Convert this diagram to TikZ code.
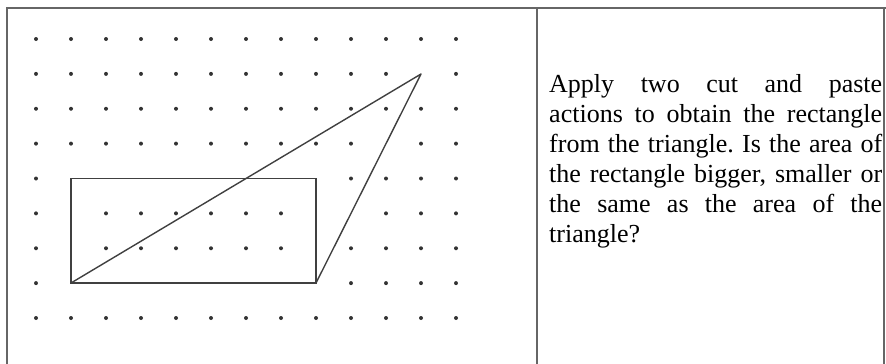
\documentclass[tikz,border=0pt]{standalone}
\usepackage{fontspec}
\setmainfont{Liberation Serif}
\begin{document}
\begin{tikzpicture}[x=1pt,y=-1pt,
  frame/.style={draw=black!60,line width=1.5pt},
  rectline/.style={draw=black!75,line width=1.9pt},
  triline/.style={draw=black!75,line width=1.4pt,line join=round},
  griddot/.style={fill=black!80},
  question/.style={anchor=north west,inner sep=0pt,text width=333pt,align=justify,
    font=\fontsize{26}{30}\selectfont}]
\useasboundingbox (0,0) rectangle (886,364);
% table frame
\coordinate (tl) at (7,8);
\coordinate (tr) at (886,8);
\coordinate (bl) at (7,364);
\coordinate (dt) at (537,8);
\coordinate (db) at (537,364);
\coordinate (rt) at (884,8);
\coordinate (rb) at (884,364);
\draw[frame] (bl) -- (tl) -- (tr);
\draw[frame] (dt) -- (db);
\draw[frame] (rt) -- (rb);
% dot grid
\foreach \i in {0,...,12}{
  \foreach \j in {0,...,8}{
    \pgfmathtruncatemacro\hideit{((\j==4 || \j==7) && \i>=1 && \i<=8) || ((\j==5 || \j==6) && (\i==1 || \i==8)) || (\i==11 && \j==1) || (\i==10 && \j==3) || (\i==9 && \j==5)}
    \ifnum\hideit=0
      \fill[griddot] ({36+35*\i},{39+34.875*\j}) circle (2pt);
    \fi
  }
}
% shapes
\coordinate (A) at (71,283);
\coordinate (B) at (316,283);
\coordinate (C) at (316,178.5);
\coordinate (D) at (71,178.5);
\coordinate (P) at (421,74);
\draw[rectline] (A) -- (B) -- (C) -- (D) -- cycle;
\draw[triline] (A) -- (P) -- (B);
% text
\node[question] (q) at (549,74.2) {\frenchspacing Apply two cut and paste\linebreak actions to obtain the rectangle\linebreak from the triangle. Is the area of\linebreak the rectangle bigger, smaller or\linebreak the same as the area of the\linebreak triangle?};
\end{tikzpicture}
\end{document}
